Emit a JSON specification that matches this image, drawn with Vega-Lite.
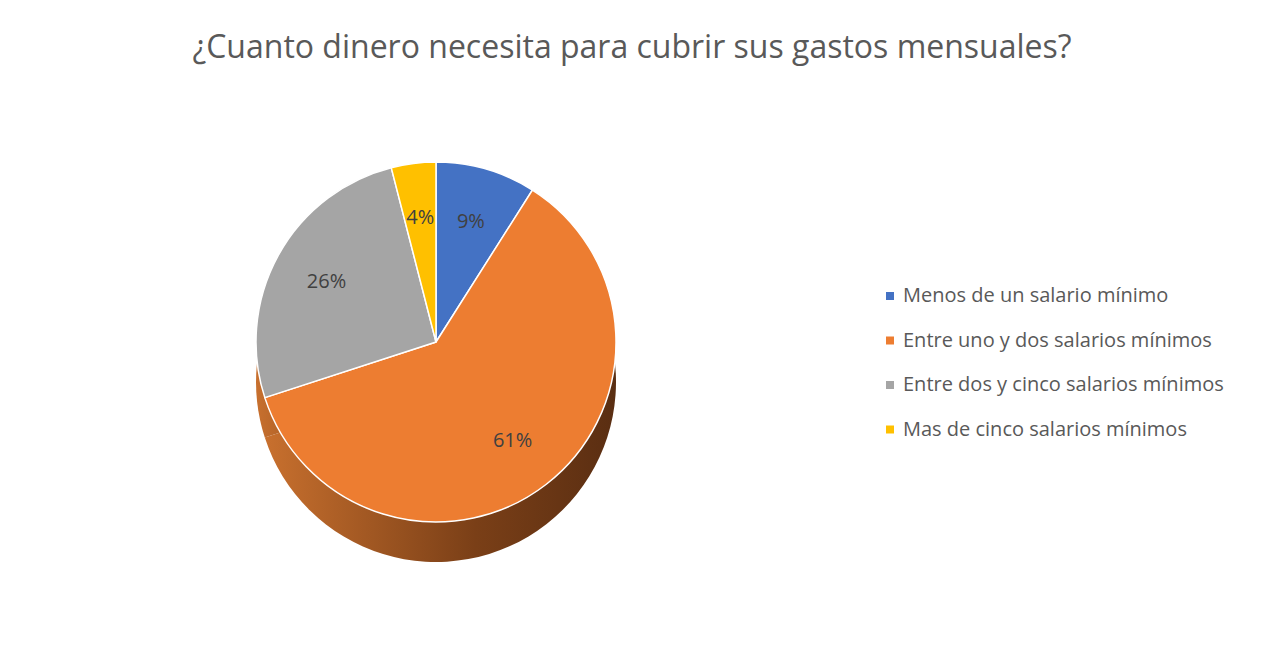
{
  "$schema": "https://vega.github.io/schema/vega-lite/v6.json",
  "width": 872,
  "height": 546,
  "padding": {"top": 32, "left": 0, "right": 0, "bottom": 0},
  "background": "white",
  "title": {
    "text": "¿Cuanto dinero necesita para cubrir sus gastos mensuales?",
    "fontSize": 32,
    "font": "Open Sans",
    "fontWeight": "normal",
    "color": "#595959",
    "anchor": "middle",
    "dx": 196,
    "offset": 4
  },
  "data": {
    "values": [
      {"categoria": "Menos de un salario mínimo", "porcentaje": 0.09, "orden": 1},
      {"categoria": "Entre uno y dos salarios mínimos", "porcentaje": 0.61, "orden": 2},
      {"categoria": "Entre dos y cinco salarios mínimos", "porcentaje": 0.26, "orden": 3},
      {"categoria": "Mas de cinco salarios mínimos", "porcentaje": 0.04, "orden": 4}
    ]
  },
  "encoding": {
    "theta": {"field": "porcentaje", "type": "quantitative", "stack": true},
    "order": {"field": "orden", "type": "quantitative", "sort": "ascending"},
    "color": {
      "field": "categoria",
      "type": "nominal",
      "sort": ["Menos de un salario mínimo", "Entre uno y dos salarios mínimos", "Entre dos y cinco salarios mínimos", "Mas de cinco salarios mínimos"],
      "scale": {
        "domain": ["Menos de un salario mínimo", "Entre uno y dos salarios mínimos", "Entre dos y cinco salarios mínimos", "Mas de cinco salarios mínimos"],
        "range": ["#4472C4", "#ED7D31", "#A5A5A5", "#FFC000"]
      },
      "legend": {
        "title": null,
        "orient": "none",
        "legendX": 880,
        "legendY": 217,
        "symbolType": "square",
        "symbolSize": 64,
        "symbolStrokeWidth": 0,
        "labelFontSize": 20,
        "labelFont": "Open Sans",
        "labelColor": "#595959",
        "labelOffset": 3,
        "rowPadding": 24.5,
        "labelLimit": 400
      }
    }
  },
  "layer": [
    {
      "mark": {"type": "arc", "outerRadius": 180, "yOffset": 40, "stroke": null},
      "encoding": {
        "fill": {
          "value": {
            "gradient": "linear",
            "x1": 0, "y1": 0.5, "x2": 1, "y2": 0.5,
            "stops": [
              {"offset": 0, "color": "#C8702E"},
              {"offset": 0.6, "color": "#7A3F17"},
              {"offset": 1, "color": "#5A2E12"}
            ]
          }
        }
      }
    },
    {
      "mark": {"type": "arc", "outerRadius": 180, "stroke": "#ffffff", "strokeWidth": 1.5}
    },
    {
      "mark": {"type": "text", "radius": 125, "fontSize": 20, "font": "Open Sans"},
      "encoding": {
        "text": {"field": "porcentaje", "type": "quantitative", "format": ".0%"},
        "fill": {"value": "#404040"}
      }
    }
  ]
}
